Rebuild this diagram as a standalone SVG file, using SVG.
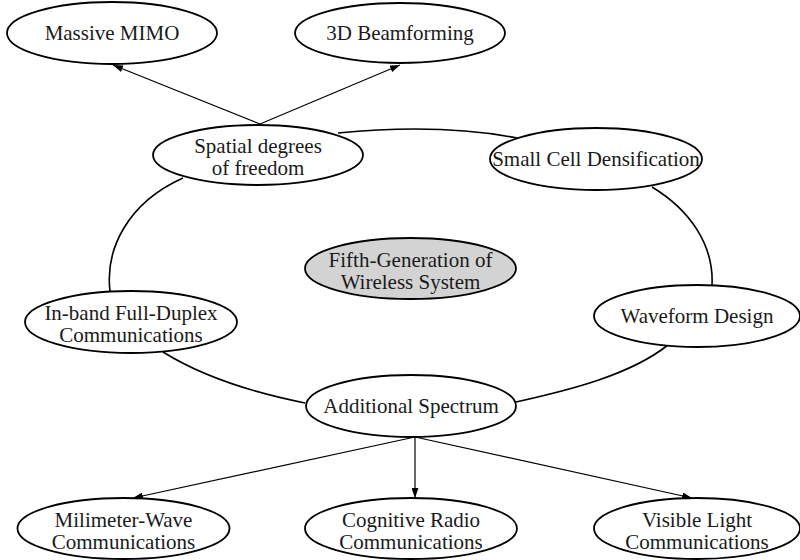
<svg xmlns="http://www.w3.org/2000/svg" width="800" height="560" viewBox="0 0 800 560">
  <style>
    .node ellipse { fill: #ffffff; stroke: #000000; stroke-width: 1.8; }
    .node.core ellipse { fill: #d3d3d3; }
    .node text { font-family: "Liberation Serif", "Times New Roman", serif; font-size: 21px; fill: #1a1a1a; text-anchor: middle; }
    .edge { fill: none; stroke: #000000; stroke-width: 1.6; }
    .arrow { fill: none; stroke: #000000; stroke-width: 1.2; marker-end: url(#head); }
  </style>
  <defs>
    <marker id="head" viewBox="0 0 10 7" refX="10" refY="3.5" markerWidth="10" markerHeight="7" markerUnits="userSpaceOnUse" orient="auto">
      <path d="M0,0 L10,3.5 L0,7 Z" fill="#000000"/>
    </marker>
  </defs>

  <rect x="0" y="0" width="800" height="560" fill="#ffffff"/>

  <g id="connectors">
    <!-- ring of undirected links -->
    <path class="edge" d="M338,133 C400,127 460,127 517,138"/>
    <path class="edge" d="M652,187 C690,210 714,245 712,285"/>
    <path class="edge" d="M668,345 C630,375 570,390 516,402"/>
    <path class="edge" d="M305,403 C250,392 200,375 163,352"/>
    <path class="edge" d="M110,291 C105,250 127,203 183,178"/>
    <!-- directed links -->
    <path class="arrow" d="M260,124 L113,65"/>
    <path class="arrow" d="M260,124 L400,65"/>
    <path class="arrow" d="M415,437 L133,498"/>
    <path class="arrow" d="M415,437 L415,498"/>
    <path class="arrow" d="M415,437 L692,498"/>
  </g>

  <g id="massive-mimo" class="node">
    <ellipse cx="112" cy="33" rx="105" ry="31"/>
    <text x="112" y="40">Massive MIMO</text>
  </g>
  <g id="beamforming-3d" class="node">
    <ellipse cx="400" cy="33" rx="105" ry="30"/>
    <text x="400" y="40">3D Beamforming</text>
  </g>
  <g id="spatial-dof" class="node">
    <ellipse cx="258" cy="155" rx="105" ry="30"/>
    <text x="258" y="153">Spatial degrees</text>
    <text x="258" y="175">of freedom</text>
  </g>
  <g id="small-cell" class="node">
    <ellipse cx="596" cy="159" rx="106" ry="31"/>
    <text x="596" y="166">Small Cell Densification</text>
  </g>
  <g id="fifth-generation" class="node core">
    <ellipse cx="410.5" cy="268.5" rx="105.5" ry="30.5"/>
    <text x="410.5" y="267">Fifth-Generation of</text>
    <text x="410.5" y="289">Wireless System</text>
  </g>
  <g id="full-duplex" class="node">
    <ellipse cx="131" cy="322" rx="106" ry="31"/>
    <text x="131" y="320">In-band Full-Duplex</text>
    <text x="131" y="342">Communications</text>
  </g>
  <g id="waveform" class="node">
    <ellipse cx="697" cy="316" rx="103" ry="31"/>
    <text x="697" y="323">Waveform Design</text>
  </g>
  <g id="additional-spectrum" class="node">
    <ellipse cx="411" cy="406" rx="105" ry="31"/>
    <text x="411" y="413">Additional Spectrum</text>
  </g>
  <g id="mmwave" class="node">
    <ellipse cx="123.5" cy="528.5" rx="106" ry="30.5"/>
    <text x="123.5" y="527">Milimeter-Wave</text>
    <text x="123.5" y="549">Communications</text>
  </g>
  <g id="cognitive-radio" class="node">
    <ellipse cx="411" cy="528.5" rx="106" ry="30.5"/>
    <text x="411" y="527">Cognitive Radio</text>
    <text x="411" y="549">Communications</text>
  </g>
  <g id="visible-light" class="node">
    <ellipse cx="697" cy="528.5" rx="103" ry="30.5"/>
    <text x="697" y="527">Visible Light</text>
    <text x="697" y="549">Communications</text>
  </g>
</svg>
